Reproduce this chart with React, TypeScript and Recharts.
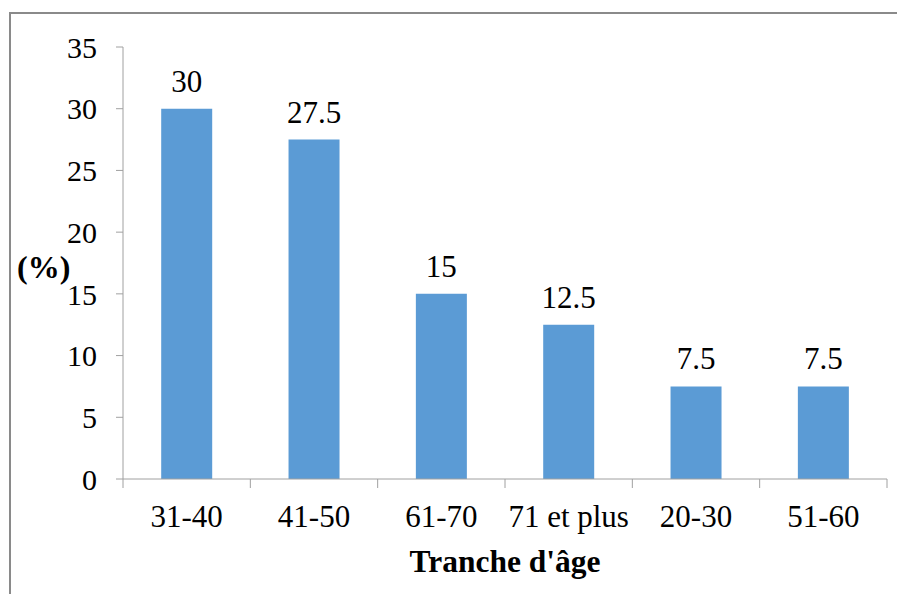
import React from "react";
import { BarChart, Bar, XAxis, YAxis, LabelList, Label } from "recharts";

const categories = ["31-40", "41-50", "61-70", "71 et plus", "20-30", "51-60"];
const percentValues = [30, 27.5, 15, 12.5, 7.5, 7.5];
const yTicks = [0, 5, 10, 15, 20, 25, 30, 35];

const data = categories.map((c, i) => ({ name: c, value: percentValues[i] }));

const FONT = "Liberation Serif, Times New Roman, serif";
const AXIS = "#A0A0A0";
const W = 897;
const H = 594;
const M = { top: 47, right: 10, bottom: 0, left: 17 };
const Y_W = 106;
const PLOT_W = W - M.left - M.right - Y_W;
const BAND = PLOT_W / categories.length;

const XTick = (props: any) => {
  const { x, y, payload, index } = props;
  const left = x - BAND / 2;
  const right = x + BAND / 2;
  return (
    <g>
      <line x1={left} y1={y - 8} x2={left} y2={y + 1} stroke={AXIS} strokeWidth={1} />
      {index === categories.length - 1 && (
        <line x1={right} y1={y - 8} x2={right} y2={y + 1} stroke={AXIS} strokeWidth={1} />
      )}
      <text x={x} y={y + 40} textAnchor="middle" fontFamily={FONT} fontSize={31} fill="#000">
        {payload.value}
      </text>
    </g>
  );
};

export default function App() {
  return (
    <div style={{ position: "absolute", left: 0, top: 0, width: W, height: H, background: "#fff" }}>
      <div
        style={{
          position: "absolute",
          left: 9,
          top: 12,
          width: W,
          height: H,
          borderTop: "2px solid #8a8a8a",
          borderLeft: "2px solid #8a8a8a",
          boxSizing: "border-box",
        }}
      />
      <BarChart width={W} height={H} data={data} margin={M} barCategoryGap="30%">
        <XAxis
          dataKey="name"
          height={115}
          stroke={AXIS}
          tickLine={false}
          tick={<XTick />}
          interval={0}
        >
          <Label
            value="Tranche d'âge"
            position="insideBottom"
            offset={22}
            fontFamily={FONT}
            fontSize={31.5}
            fontWeight="bold"
            fill="#000"
          />
        </XAxis>
        <YAxis
          width={Y_W}
          domain={[0, 35]}
          ticks={yTicks}
          stroke={AXIS}
          tickSize={7}
          tickMargin={19}
          tick={{ fontFamily: FONT, fontSize: 30, fill: "#000" }}
        >
          <Label
            value="(%)"
            position="insideLeft"
            offset={0}
            dy={4}
            fontFamily={FONT}
            fontSize={32}
            fontWeight="bold"
            fill="#000"
            textAnchor="start"
          />
        </YAxis>
        <Bar dataKey="value" fill="#5B9BD5" isAnimationActive={false}>
          <LabelList
            dataKey="value"
            position="top"
            offset={17}
            fontFamily={FONT}
            fontSize={31}
            fill="#000"
          />
        </Bar>
      </BarChart>
    </div>
  );
}
